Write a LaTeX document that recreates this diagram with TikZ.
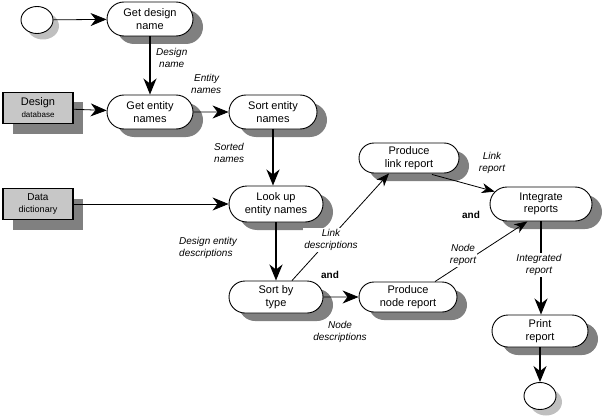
\documentclass[tikz,border=0pt]{standalone}
\usepackage{fontspec}
\setmainfont{Liberation Sans}
\usetikzlibrary{shapes.misc,shapes.geometric,arrows.meta,shadows}
\begin{document}
\begin{tikzpicture}[x=1pt,y=-1pt,
  proc/.style={rounded rectangle, draw, line width=0.9pt, fill=white,
    minimum height=34pt, minimum width=88pt, align=center, inner sep=1pt,
    font=\fontsize{11}{12.5}\selectfont,
    drop shadow={shadow xshift=10pt, shadow yshift=-8pt, fill=black!50, opacity=1}},
  term/.style={ellipse, draw, line width=0.9pt, fill=white,
    minimum width=32pt, minimum height=27pt,
    drop shadow={shadow xshift=6pt, shadow yshift=-6pt, fill=black!25, opacity=1}},
  store/.style={rectangle, draw, line width=1.3pt, fill=black!22,
    minimum width=70pt, minimum height=31pt, align=center, inner sep=1pt,
    drop shadow={shadow xshift=10pt, shadow yshift=-10pt, fill=black!50, opacity=1}},
  lab/.style={font=\itshape\fontsize{10}{12}\selectfont, align=center, inner sep=1pt},
  labw/.style={lab, fill=white},
  andlab/.style={font=\bfseries\fontsize{10}{12}\selectfont, inner sep=1pt},
  bigarrow/.style={-{Stealth[length=16pt,width=13pt,inset=5pt]}, line width=1.8pt},
  harrow/.style={-{Stealth[length=16pt,width=13pt,inset=5pt]}, line width=0.8pt},
  darrow/.style={-{Stealth[length=13pt,width=10pt,inset=4pt]}, line width=0.8pt}
]
\useasboundingbox (0,0) rectangle (604,417);

% terminals
\node[term] (start) at (37,20) {};
\node[term] (stop) at (540,396) {};

% stores
\node[store] (ddb) at (38,108) {{\fontsize{11}{12}\selectfont Design}\\{\fontsize{8}{10}\selectfont database}};
\node[store] (ddict) at (38,204) {{\fontsize{10}{12}\selectfont Data}\\{\fontsize{9}{10}\selectfont dictionary}};

% processes
\node[proc] (gdn) at (150,19) {Get design\\name};
\node[proc] (gen) at (150,112) {Get entity\\names};
\node[proc, minimum width=90pt] (sen) at (273,112) {Sort entity\\names};
\node[proc, minimum width=96pt, minimum height=36pt] (lue) at (276,204) {Look up\\entity names};
\node[proc, minimum width=96pt, minimum height=32pt] (sbt) at (276,297) {Sort by\\type};
\node[proc, minimum width=100pt, minimum height=30pt] (pnr) at (408,297) {Produce\\node report};
\node[proc, minimum width=102pt, minimum height=30pt] (plr) at (409,158) {Produce\\link report};
\node[proc, minimum width=104pt] (ir) at (541,204) {Integrate\\reports};
\node[proc, minimum width=98pt, minimum height=32pt] (pr) at (540,331) {Print\\report};

% connectors
\draw[harrow] (start) -- (gdn);
\draw[bigarrow] (gdn.south) -- (gen.north);
\draw[harrow] (ddb) -- (gen);
\draw[harrow] (gen) -- (sen);
\draw[bigarrow] (sen.south) -- (sen.south |- lue.north);
\draw[harrow] (ddict) -- (ddict -| lue.west);
\draw[bigarrow] (lue.south -| sbt.north) -- (sbt.north);
\draw[harrow] (sbt) -- (pnr);
\draw[darrow] ([xshift=16pt]sbt.north) -- ([xshift=-20pt]plr.south);
\draw[darrow] ([xshift=-12pt,yshift=-1pt]plr.south east) -- (ir.165);
\draw[darrow] ([xshift=27pt]pnr.north) -- (ir.232);
\draw[bigarrow] (ir.south |- ir.south) -- (ir.south |- pr.north);
\draw[bigarrow] (pr.south) -- (stop.north);

% labels
\node[lab, align=left, anchor=west] (l1) at (155,58) {Design\\\hspace*{3pt}name};
\node[lab, align=left, anchor=west] (l2) at (190,84) {\hspace*{3pt}Entity\\names};
\node[lab, align=left, anchor=west] (l3) at (213,153) {Sorted\\names};
\node[lab, align=left, anchor=west] (l4) at (178,248) {Design entity\\descriptions};
\node[labw] (l5) at (331,240) {Link\\descriptions};
\node[lab] (l6) at (340,332) {Node\\descriptions};
\node[lab] (l7) at (492,163) {Link\\report};
\node[labw] (l8) at (463,255) {Node\\report};
\node[labw] (l9) at (539,265) {Integrated\\report};
\node[andlab] (a1) at (471,215) {and};
\node[andlab] (a2) at (330,275) {and};
\end{tikzpicture}
\end{document}
